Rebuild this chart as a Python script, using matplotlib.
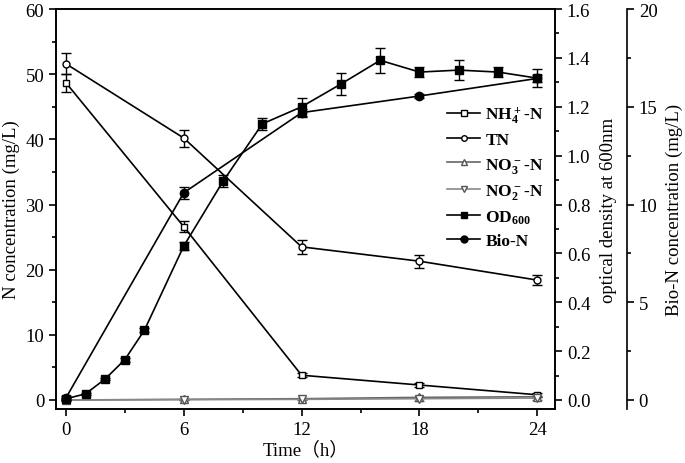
import matplotlib
matplotlib.use('Agg')
import matplotlib.pyplot as plt

# sampling times (h)
t_n = [0, 6, 12, 18, 24]
t_od = [0, 1, 2, 3, 4, 6, 8, 10, 12, 14, 16, 18, 20, 22, 24]

# nitrogen species (mg/L)
nh4 = [48.7, 26.6, 3.8, 2.3, 0.8]
nh4_err = [1.4, 0.8, 0.3, 0.3, 0.3]
tn = [51.6, 40.2, 23.5, 21.3, 18.4]
tn_err = [1.6, 1.3, 1.1, 1.0, 0.8]
no3 = [0.0, 0.1, 0.2, 0.4, 0.5]
no3_err = [0.1, 0.1, 0.1, 0.1, 0.1]
no2 = [0.0, 0.05, 0.1, 0.2, 0.3]
no2_err = [0.1, 0.1, 0.1, 0.3, 0.3]

# optical density at 600 nm
od600 = [0.005, 0.025, 0.086, 0.165, 0.286, 0.63, 0.895, 1.13, 1.2, 1.293, 1.39,
         1.342, 1.35, 1.342, 1.317]
od_err = [0.005, 0.005, 0.006, 0.008, 0.008, 0.015, 0.025, 0.025, 0.037, 0.045, 0.05,
          0.02, 0.04, 0.02, 0.038]

# biomass nitrogen (mg/L)
bio_n = [0.1, 10.6, 14.7, 15.55, 16.45]
bio_err = [0.1, 0.3, 0.2, 0.1, 0.2]

plt.rcParams['font.family'] = ['Liberation Serif', 'DejaVu Serif']
plt.rcParams['mathtext.fontset'] = 'custom'
plt.rcParams['mathtext.rm'] = 'Liberation Serif'
plt.rcParams['mathtext.bf'] = 'Liberation Serif:bold'
plt.rcParams['font.size'] = 13

fig = plt.figure(figsize=(6.85, 4.64), dpi=100)
ax1 = fig.add_axes([0.0818, 0.1164, 0.7285, 0.862])
ax2 = ax1.twinx()
ax3 = ax1.twinx()

kw = dict(color='black', ecolor='black', elinewidth=1, capsize=3.5, lw=1.2)

h1 = ax1.errorbar(t_n, nh4, yerr=nh4_err, marker='s', ms=5, mfc='white', mec='black',
                  label=r'$\mathbf{NH_4^+}$-N', **kw)
h2 = ax1.errorbar(t_n, tn, yerr=tn_err, marker='o', ms=5, mfc='white', mec='black',
                  label='TN', **kw)
h3 = ax1.errorbar(t_n, no3, yerr=no3_err, marker='^', ms=6, mfc='white', mec='#555555',
                  label=r'$\mathbf{NO_3^-}$-N', color='#666666', ecolor='#666666',
                  elinewidth=1, capsize=3.5, lw=1.2)
h4 = ax1.errorbar(t_n, no2, yerr=no2_err, marker='v', ms=6, mfc='white', mec='#555555',
                  label=r'$\mathbf{NO_2^-}$-N', color='#888888', ecolor='#666666',
                  elinewidth=1, capsize=3.5, lw=1.2)
h5 = ax2.errorbar(t_od, od600, yerr=od_err, marker='s', ms=6, mfc='black', mec='black',
                  label=r'$\mathbf{OD_{600}}$', **kw)
h6 = ax3.errorbar(t_n, bio_n, yerr=bio_err, marker='o', ms=6, mfc='black', mec='black',
                  label='Bio-N', **kw)

ax1.set_xlim(-0.5, 24.9)
ax1.set_ylim(-1.38, 60)
ax2.set_ylim(-0.0368, 1.6)
ax3.set_ylim(-0.46, 20)

ax1.set_xticks([0, 6, 12, 18, 24])
ax1.set_xticks([3, 9, 15, 21], minor=True)
ax1.set_yticks(range(0, 61, 10))
ax1.set_yticks(range(5, 60, 10), minor=True)
ax2.set_yticks([0.0, 0.2, 0.4, 0.6, 0.8, 1.0, 1.2, 1.4, 1.6])
ax2.set_yticklabels(['0.0', '0.2', '0.4', '0.6', '0.8', '1.0', '1.2', '1.4', '1.6'])
ax2.set_yticks([0.1, 0.3, 0.5, 0.7, 0.9, 1.1, 1.3, 1.5], minor=True)
ax3.set_yticks([0, 5, 10, 15, 20])
ax3.set_yticks([2.5, 7.5, 12.5, 17.5], minor=True)

for a in (ax1, ax2, ax3):
    a.tick_params(which='major', direction='out', length=5, width=1.2, labelsize=13.5)
    a.tick_params(which='minor', direction='out', length=3, width=1.2)
    for s in a.spines.values():
        s.set_linewidth(1.2)

ax3.spines['right'].set_position(('axes', 1.144))
for s in ('top', 'left', 'bottom'):
    ax3.spines[s].set_visible(False)

ax1.set_xlabel('Time（h）', family=['Liberation Serif', 'Noto Sans CJK SC'],
               fontsize=13.5, labelpad=2)
ax1.set_ylabel('N concentration (mg/L)', fontsize=13.5, labelpad=4)
ax2.set_ylabel('optical density at 600nm', fontsize=13.5, labelpad=7)
ax3.set_ylabel('Bio-N concentration (mg/L)', fontsize=13.5, labelpad=6)

# legend shows only line + marker (no error bars)
handles = [h[0] for h in (h1, h2, h3, h4, h5, h6)]
labels = [h.get_label() for h in (h1, h2, h3, h4, h5, h6)]
leg = ax1.legend(handles, labels, loc='upper left',
                 bbox_to_anchor=(0.77, 0.78), frameon=False,
                 prop={'weight': 'bold', 'size': 12.5}, handlelength=1.9,
                 handletextpad=0.3, labelspacing=0.42, borderaxespad=0)
for lh, ms in zip(leg.get_lines(), [4, 4, 5, 5, 4.5, 5]):
    lh.set_markersize(ms)

fig.savefig('out.png', dpi=100)
